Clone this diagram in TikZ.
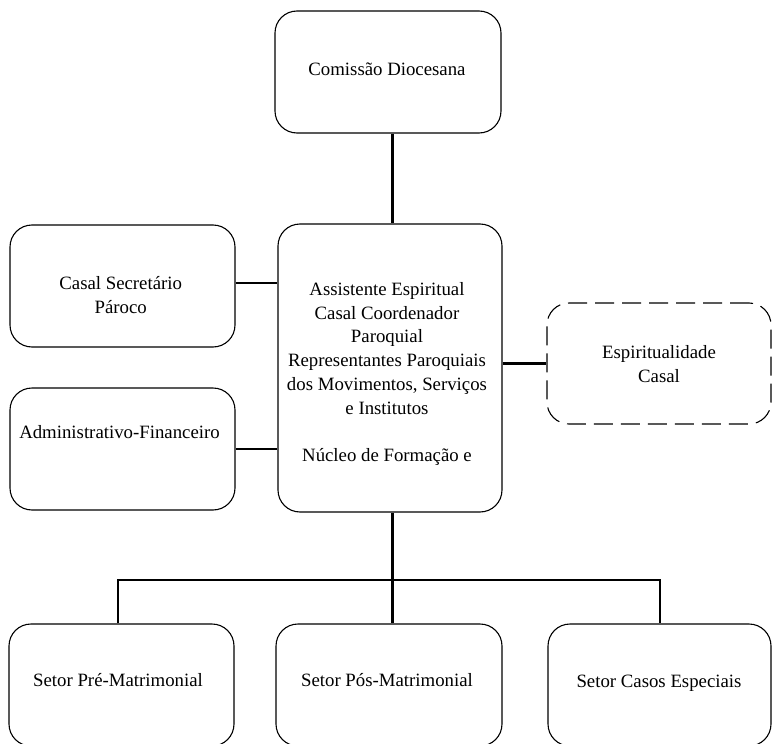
\documentclass[tikz,border=0pt]{standalone}
\usepackage{fontspec}
\setmainfont{Liberation Serif}
\begin{document}
\begin{tikzpicture}[x=1pt,y=-1pt,
  box/.style={draw=black,line width=1.1pt,rounded corners=22pt,inner sep=0pt},
  dbox/.style={box,dash pattern=on 19pt off 8pt},
  txt/.style={inner sep=0pt,align=center,font=\fontsize{18.8}{23.7}\selectfont},
  conn/.style={draw=black,line width=2.4pt}]
\clip (0,0) rectangle (772,744);
\fill[white] (0,0) rectangle (772,744);
% boxes
\node[box,minimum width=226pt,minimum height=122pt] (com) at (388,72) {};
\node[box,minimum width=224pt,minimum height=288pt] (ctr) at (390,368) {};
\node[box,minimum width=225pt,minimum height=122pt] (sec) at (122.5,286) {};
\node[box,minimum width=225pt,minimum height=122pt] (adm) at (122.5,449) {};
\node[dbox,minimum width=224pt,minimum height=121pt] (esp) at (659,363.5) {};
\node[box,minimum width=225pt,minimum height=122pt] (pre) at (121.5,685) {};
\node[box,minimum width=226pt,minimum height=122pt] (pos) at (389,685) {};
\node[box,minimum width=223pt,minimum height=122pt] (cas) at (659.5,685) {};
% texts
\node[txt] (tcom) at (387,69) {Comissão Diocesana};
\node[txt] (tctr) at (387,374) {Assistente Espiritual\\Casal Coordenador\\Paroquial\\Representantes Paroquiais\\dos Movimentos, Serviços\\e Institutos\\[23.7pt]Núcleo de Formação e};
\node[txt] (tsec) at (120.7,295) {Casal Secretário\\Pároco};
\node[txt] (tadm) at (119.5,432) {Administrativo-Financeiro};
\node[txt] (tesp) at (659,364) {Espiritualidade\\Casal};
\node[txt] (tpre) at (118,680) {Setor Pré-Matrimonial};
\node[txt] (tpos) at (387,680) {Setor Pós-Matrimonial};
\node[txt] (tcas) at (659,683) {Setor Casos Especiais};
% connector guides
\coordinate (vx) at (392.5,0);
\coordinate (bus) at (0,580);
\coordinate (lx) at (118,0);
\coordinate (rx) at (660,0);
\coordinate (hs) at (0,283);
% connectors
\draw[conn] (com.south -| vx) -- (ctr.north -| vx);
\draw[conn] (sec.east |- hs) -- (ctr.west |- hs);
\draw[conn] (adm.east) -- (adm.east -| ctr.west);
\draw[conn] (ctr.east |- esp.west) -- (esp.west);
\draw[conn] (ctr.south -| vx) -- (pos.north -| vx);
\draw[conn] (pre.north -| lx) -- (bus -| lx) -- (bus -| rx) -- (cas.north -| rx);
\end{tikzpicture}
\end{document}
